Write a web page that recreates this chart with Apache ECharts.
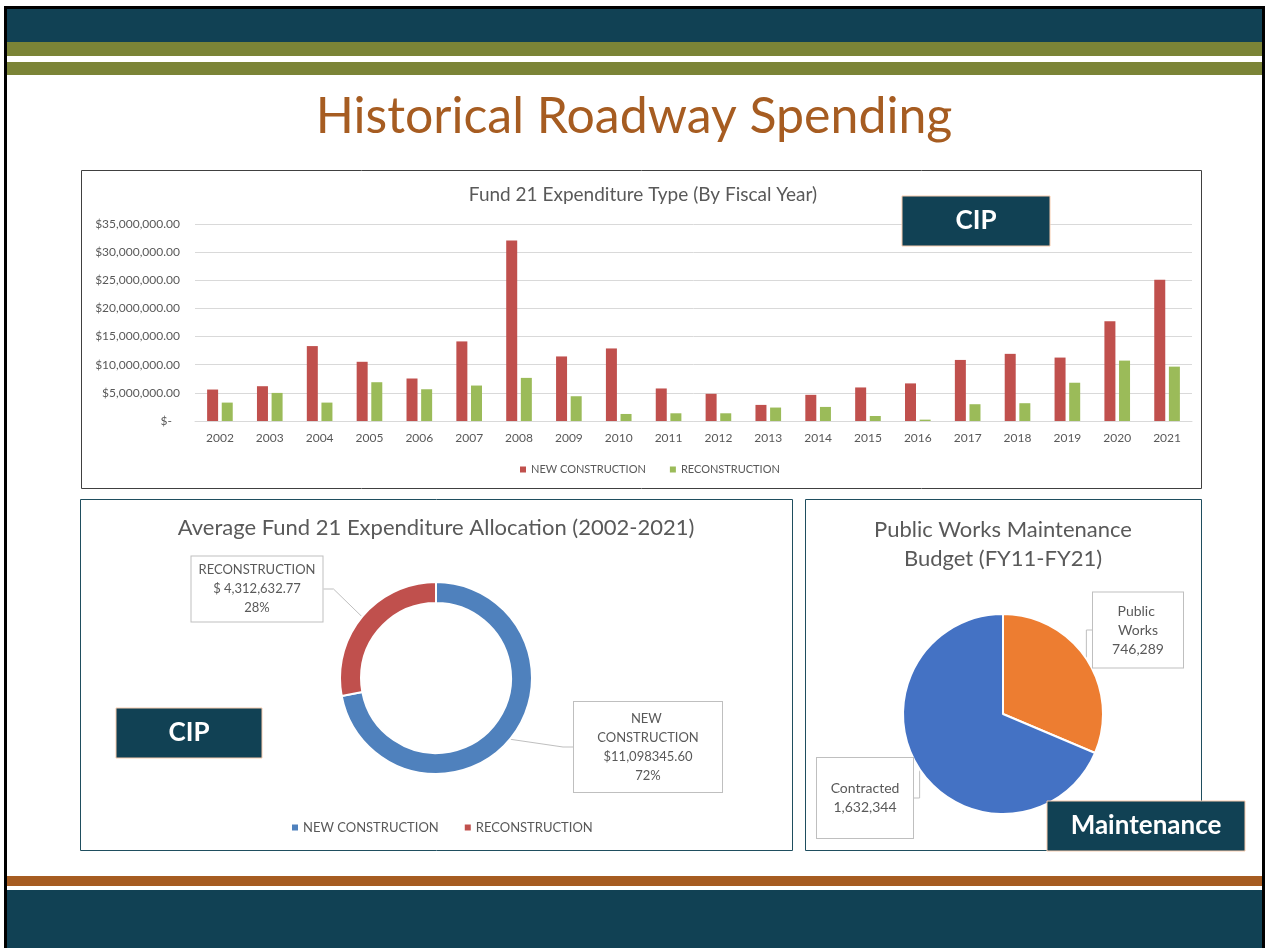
<!DOCTYPE html>
<html>
<head>
<meta charset="utf-8">
<title>Historical Roadway Spending</title>
<script src="https://cdn.jsdelivr.net/npm/echarts@6/dist/echarts.min.js"></script>
<style>
  html, body { margin: 0; padding: 0; background: #fff; }
  #main { width: 1265px; height: 948px; }
</style>
</head>
<body>
<div id="main"></div>
<script>
// fiscal years and spending per type (dollars)
const years = ['2002', '2003', '2004', '2005', '2006', '2007', '2008', '2009', '2010', '2011',
  '2012', '2013', '2014', '2015', '2016', '2017', '2018', '2019', '2020', '2021'];
const newConstruction = [5590000, 6180000, 13310000, 10520000, 7550000, 14140000, 32090000, 11470000, 12890000, 5780000,
  4830000, 2860000, 4650000, 5960000, 6680000, 10850000, 11930000, 11270000, 17710000, 25100000];
const reconstruction = [3270000, 4990000, 3270000, 6890000, 5640000, 6300000, 7660000, 4400000, 1250000, 1370000,
  1370000, 2390000, 2500000, 890000, 240000, 2980000, 3160000, 6800000, 10730000, 9660000];
const yTickMax = 35000000;
const yTickStep = 5000000;

// average allocation donut
const allocationNames = ['NEW CONSTRUCTION', 'RECONSTRUCTION'];
const allocationValues = [11098345.60, 4312632.77];
const allocationValueText = ['$11,098345.60', '$ 4,312,632.77'];

// maintenance budget pie
const maintenanceNames = ['Public Works', 'Contracted'];
const maintenanceValues = [746289, 1632344];

const TEAL = '#114154';
const OLIVE = '#7B8437';
const RUST = '#A65C21';
const GREY_TEXT = '#595959';
const FONT = 'Lato';

const chart = echarts.init(document.getElementById('main'));

// label boxes: center position, inner width, padding
const allocationLabelBoxes = [
  { x: 648, y: 747, width: 110, padding: [7, 19, 7, 19] },
  { x: 257, y: 589, width: 121, padding: [4, 5, 4, 5] }
];
const maintenanceLabelBoxes = [
  { x: 1138, y: 630, width: 60, padding: [9, 15, 9, 15] },
  { x: 865, y: 798, width: 76, padding: [21, 10, 21, 10] }
];

const calloutStyle = {
  color: GREY_TEXT,
  fontFamily: FONT,
  fontSize: 13,
  lineHeight: 19,
  align: 'center',
  backgroundColor: '#fff',
  borderColor: '#BFBFBF',
  borderWidth: 1,
  overflow: 'break'
};

const option = {
  animation: false,
  backgroundColor: '#fff',
  textStyle: { fontFamily: FONT },
  legend: [
    {
      data: ['NEW CONSTRUCTION', 'RECONSTRUCTION'],
      left: 515,
      top: 459,
      icon: 'rect',
      itemWidth: 6,
      itemHeight: 6,
      itemGap: 24,
      selectedMode: false,
      textStyle: { fontSize: 11, color: GREY_TEXT, fontFamily: FONT }
    },
    {
      data: [
        { name: 'NEW CONSTRUCTION', itemStyle: { color: '#4F81BD' } },
        { name: 'RECONSTRUCTION', itemStyle: { color: '#C0504D' } }
      ],
      left: 287,
      top: 816,
      icon: 'rect',
      itemWidth: 6,
      itemHeight: 6,
      itemGap: 26,
      selectedMode: false,
      textStyle: { fontSize: 13, color: GREY_TEXT, fontFamily: FONT }
    }
  ],
  grid: { left: 195, right: 73, top: 224, bottom: 527 },
  xAxis: {
    type: 'category',
    data: years,
    axisTick: { show: false },
    axisLine: { lineStyle: { color: '#D9D9D9' } },
    axisLabel: { color: GREY_TEXT, fontSize: 12, margin: 11, fontFamily: FONT }
  },
  yAxis: {
    type: 'value',
    min: 0,
    max: yTickMax,
    interval: yTickStep,
    splitLine: { lineStyle: { color: '#D9D9D9' } },
    axisLabel: {
      color: GREY_TEXT,
      fontSize: 12,
      margin: 15,
      fontFamily: FONT,
      formatter: function (v) {
        if (v === 0) return '{z|$-}';
        return '$' + v.toLocaleString('en-US', { minimumFractionDigits: 2, maximumFractionDigits: 2 });
      },
      rich: { z: { padding: [0, 8, 0, 0], color: GREY_TEXT, fontSize: 12, fontFamily: FONT } }
    }
  },
  series: [
    {
      name: 'NEW CONSTRUCTION',
      type: 'bar',
      data: newConstruction,
      barWidth: 11,
      barGap: '33%',
      itemStyle: { color: '#C0504D' },
      emphasis: { disabled: true }
    },
    {
      name: 'RECONSTRUCTION',
      type: 'bar',
      data: reconstruction,
      barWidth: 11,
      itemStyle: { color: '#9BBB59' },
      emphasis: { disabled: true }
    },
    {
      name: 'Average Allocation',
      type: 'pie',
      center: [436, 678],
      radius: [75, 96],
      startAngle: 90,
      avoidLabelOverlap: false,
      emphasis: { disabled: true },
      itemStyle: { borderColor: '#fff', borderWidth: 2 },
      data: allocationNames.map(function (n, i) {
        return {
          name: n,
          value: allocationValues[i],
          itemStyle: { color: i === 0 ? '#4F81BD' : '#C0504D' },
          label: { width: allocationLabelBoxes[i].width, padding: allocationLabelBoxes[i].padding }
        };
      }),
      label: Object.assign({
        position: 'outside',
        formatter: function (p) {
          return p.name + '\n' + allocationValueText[p.dataIndex] + '\n' + Math.round(p.percent) + '%';
        }
      }, calloutStyle),
      labelLine: { show: true, length: 10, length2: 10, lineStyle: { color: '#BFBFBF', width: 1 } },
      labelLayout: function (p) {
        const b = allocationLabelBoxes[p.dataIndex];
        return { x: b.x, y: b.y, align: 'center', verticalAlign: 'middle' };
      }
    },
    {
      name: 'Maintenance Budget',
      type: 'pie',
      center: [1003, 714],
      radius: 100,
      startAngle: 90,
      avoidLabelOverlap: false,
      emphasis: { disabled: true },
      itemStyle: { borderColor: '#fff', borderWidth: 2 },
      data: maintenanceNames.map(function (n, i) {
        return {
          name: n,
          value: maintenanceValues[i],
          itemStyle: { color: i === 0 ? '#ED7D31' : '#4472C4' },
          label: { width: maintenanceLabelBoxes[i].width, padding: maintenanceLabelBoxes[i].padding }
        };
      }),
      label: Object.assign({
        position: 'outside',
        formatter: function (p) {
          return p.name + '\n' + p.value.toLocaleString('en-US');
        }
      }, calloutStyle, { fontSize: 14 }),
      labelLine: { show: true, length: 10, length2: 10, lineStyle: { color: '#BFBFBF', width: 1 } },
      labelLayout: function (p) {
        const b = maintenanceLabelBoxes[p.dataIndex];
        return { x: b.x, y: b.y, align: 'center', verticalAlign: 'middle' };
      }
    }
  ],
  graphic: {
    elements: [
      // slide frame and header / footer bands
      { type: 'rect', shape: { x: 4, y: 6, width: 1261, height: 3 }, style: { fill: '#000' } },
      { type: 'rect', shape: { x: 4, y: 6, width: 3, height: 942 }, style: { fill: '#000' } },
      { type: 'rect', shape: { x: 1262, y: 6, width: 3, height: 942 }, style: { fill: '#000' } },
      { type: 'rect', shape: { x: 7, y: 9, width: 1255, height: 33 }, style: { fill: TEAL } },
      { type: 'rect', shape: { x: 7, y: 42, width: 1255, height: 14 }, style: { fill: OLIVE } },
      { type: 'rect', shape: { x: 7, y: 62, width: 1255, height: 13 }, style: { fill: OLIVE } },
      { type: 'rect', shape: { x: 7, y: 876, width: 1255, height: 10 }, style: { fill: RUST } },
      { type: 'rect', shape: { x: 7, y: 890, width: 1255, height: 58 }, style: { fill: TEAL } },
      // slide title
      {
        type: 'text', x: 634, y: 117,
        style: { text: 'Historical Roadway Spending', fill: RUST, font: '50px Lato', textAlign: 'center', textVerticalAlign: 'middle' }
      },
      // chart frames
      { type: 'rect', shape: { x: 81.5, y: 170.5, width: 1120, height: 318 }, style: { fill: 'none', stroke: '#404040', lineWidth: 1 } },
      { type: 'rect', shape: { x: 80.5, y: 499.5, width: 712, height: 351 }, style: { fill: 'none', stroke: '#1F4E5F', lineWidth: 1 } },
      { type: 'rect', shape: { x: 805.5, y: 499.5, width: 396, height: 351 }, style: { fill: 'none', stroke: '#1F4E5F', lineWidth: 1 } },
      // chart titles
      {
        type: 'text', x: 643, y: 195,
        style: { text: 'Fund 21 Expenditure Type (By Fiscal Year)', fill: GREY_TEXT, font: '19px Lato', textAlign: 'center', textVerticalAlign: 'middle' }
      },
      {
        type: 'text', x: 436, y: 528,
        style: { text: 'Average Fund 21 Expenditure Allocation (2002-2021)', fill: GREY_TEXT, font: '22px Lato', textAlign: 'center', textVerticalAlign: 'middle' }
      },
      {
        type: 'text', x: 1003, y: 544,
        style: { text: 'Public Works Maintenance\nBudget (FY11-FY21)', fill: GREY_TEXT, font: '22px Lato', lineHeight: 29, textAlign: 'center', textVerticalAlign: 'middle' }
      },
      // tags
      { type: 'rect', z: 100, shape: { x: 902, y: 196, width: 148, height: 50 }, style: { fill: TEAL, stroke: '#F8CBAD', lineWidth: 1 } },
      {
        type: 'text', z: 101, x: 976, y: 221,
        style: { text: 'CIP', fill: '#fff', font: 'bold 26px Lato', textAlign: 'center', textVerticalAlign: 'middle' }
      },
      { type: 'rect', z: 100, shape: { x: 116, y: 708, width: 146, height: 50 }, style: { fill: TEAL, stroke: '#F8CBAD', lineWidth: 1 } },
      {
        type: 'text', z: 101, x: 189, y: 733,
        style: { text: 'CIP', fill: '#fff', font: 'bold 26px Lato', textAlign: 'center', textVerticalAlign: 'middle' }
      },
      { type: 'rect', z: 100, shape: { x: 1047, y: 801, width: 198, height: 50 }, style: { fill: TEAL, stroke: '#F8CBAD', lineWidth: 1 } },
      {
        type: 'text', z: 101, x: 1146, y: 826,
        style: { text: 'Maintenance', fill: '#fff', font: 'bold 26px Lato', textAlign: 'center', textVerticalAlign: 'middle' }
      }
    ]
  }
};

chart.setOption(option);
</script>
</body>
</html>
